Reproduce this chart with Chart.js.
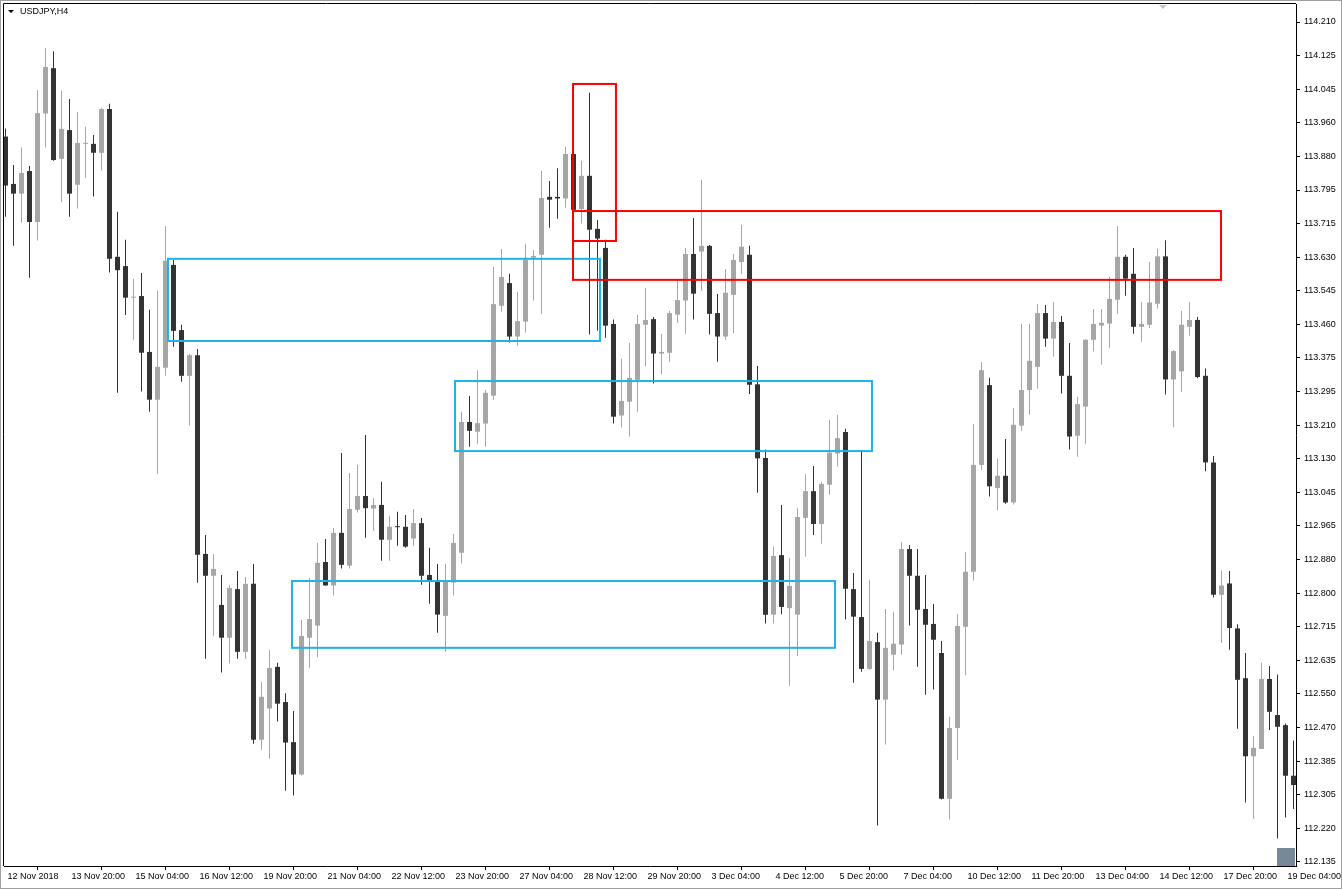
<!doctype html>
<html lang="en">

<head>
  <meta charset="UTF-8" />
  <title>USDJPY,H4</title>
  <script src="https://cdn.jsdelivr.net/npm/chart.js@4.4.1/dist/chart.umd.min.js"></script>
  <style>
    html, body { margin: 0; padding: 0; background: #fff; }
    #wrap { position: relative; width: 1342px; height: 889px; }
  </style>
</head>

<body>
  <div id="wrap">
    <canvas id="candleChart"></canvas>
  </div>
  <script>
    // USDJPY H4 bars, 12 Nov 2018 12:00 .. 19 Dec 2018 08:00
    const open = [
      113.927, 113.810, 113.786, 113.842, 113.716, 113.984, 114.096, 113.872, 113.943, 113.808,
      113.909, 113.909, 113.887, 113.995, 113.630, 113.607, 113.529, 113.533, 113.395, 113.277,
      113.356, 113.610, 113.449, 113.336, 113.387, 112.896, 112.842, 112.770, 112.689, 112.809,
      112.654, 112.822, 112.437, 112.514, 112.617, 112.530, 112.431, 112.351, 112.689, 112.719,
      112.876, 112.818, 112.948, 112.867, 113.005, 113.039, 113.008, 113.017, 112.931, 112.963,
      112.963, 112.934, 112.972, 112.844, 112.827, 112.743, 112.825, 112.899, 113.222, 113.198,
      113.218, 113.287, 113.509, 113.565, 113.433, 113.470, 113.628, 113.635, 113.778, 113.778,
      113.774, 113.884, 113.748, 113.830, 113.699, 113.652, 113.464, 113.238, 113.272, 113.326,
      113.462, 113.476, 113.391, 113.393, 113.487, 113.522, 113.637, 113.643, 113.657, 113.491,
      113.433, 113.536, 113.617, 113.635, 113.315, 113.133, 112.746, 112.893, 112.762, 112.746,
      112.985, 113.051, 112.970, 113.067, 113.144, 113.197, 112.809, 112.740, 112.612, 112.678,
      112.536, 112.647, 112.672, 112.908, 112.842, 112.760, 112.723, 112.651, 112.291, 112.466,
      112.716, 112.852, 113.116, 113.313, 113.059, 113.089, 113.023, 113.213, 113.301, 113.358,
      113.491, 113.428, 113.469, 113.336, 113.188, 113.260, 113.425, 113.460, 113.465, 113.524,
      113.630, 113.588, 113.457, 113.462, 113.514, 113.631, 113.327, 113.347, 113.457, 113.474,
      113.336, 113.122, 112.795, 112.823, 112.712, 112.589, 112.396, 112.414, 112.587, 112.498,
      112.473, 112.348
    ];
    const high = [
      113.947, 113.857, 113.900, 113.854, 114.042, 114.146, 114.138, 114.040, 114.020, 113.988,
      113.951, 113.931, 113.998, 114.008, 113.741, 113.672, 113.575, 113.590, 113.499, 113.546,
      113.706, 113.622, 113.462, 113.390, 113.402, 112.943, 112.896, 112.844, 112.819, 112.854,
      112.839, 112.871, 112.580, 112.659, 112.627, 112.552, 112.508, 112.733, 112.837, 112.923,
      112.933, 112.960, 113.145, 113.096, 113.116, 113.190, 113.034, 113.074, 112.990, 113.000,
      112.992, 113.007, 112.985, 112.911, 112.871, 112.871, 112.945, 113.247, 113.286, 113.350,
      113.301, 113.605, 113.649, 113.588, 113.543, 113.662, 113.647, 113.842, 113.817, 113.849,
      113.901, 113.886, 113.867, 114.035, 113.721, 113.672, 113.475, 113.378, 113.417, 113.486,
      113.553, 113.481, 113.439, 113.496, 113.575, 113.652, 113.726, 113.820, 113.659, 113.538,
      113.600, 113.637, 113.709, 113.657, 113.360, 113.154, 112.914, 113.017, 112.885, 113.009,
      113.093, 113.113, 113.074, 113.227, 113.239, 113.205, 112.849, 113.153, 112.832, 112.701,
      112.760, 112.753, 112.925, 112.918, 112.908, 112.844, 112.772, 112.681, 112.494, 112.747,
      112.901, 113.217, 113.370, 113.331, 113.131, 113.180, 113.257, 113.464, 113.464, 113.514,
      113.511, 113.518, 113.484, 113.417, 113.284, 113.427, 113.501, 113.501, 113.580, 113.706,
      113.635, 113.652, 113.518, 113.617, 113.650, 113.671, 113.400, 113.496, 113.518, 113.481,
      113.354, 113.138, 112.855, 112.854, 112.722, 112.651, 112.446, 112.627, 112.619, 112.598,
      112.477, 112.435
    ];
    const low = [
      113.729, 113.657, 113.714, 113.578, 113.670, 113.900, 113.867, 113.765, 113.729, 113.749,
      113.825, 113.779, 113.843, 113.591, 113.294, 113.486, 113.425, 113.297, 113.247, 113.094,
      113.336, 113.408, 113.321, 113.213, 112.825, 112.637, 112.694, 112.603, 112.625, 112.637,
      112.637, 112.427, 112.412, 112.390, 112.482, 112.311, 112.299, 112.348, 112.615, 112.641,
      112.818, 112.793, 112.860, 112.860, 112.998, 112.936, 112.953, 112.879, 112.879, 112.916,
      112.911, 112.916, 112.820, 112.773, 112.701, 112.654, 112.793, 112.872, 113.161, 113.168,
      113.161, 113.277, 113.494, 113.418, 113.410, 113.443, 113.522, 113.489, 113.702, 113.724,
      113.751, 113.746, 113.712, 113.438, 113.447, 113.430, 113.218, 113.208, 113.186, 113.247,
      113.359, 113.317, 113.339, 113.371, 113.467, 113.440, 113.475, 113.546, 113.438, 113.371,
      113.425, 113.442, 113.588, 113.291, 113.047, 112.724, 112.724, 112.747, 112.570, 112.644,
      112.889, 112.943, 112.921, 113.042, 113.112, 112.734, 112.578, 112.605, 112.610, 112.225,
      112.425, 112.608, 112.647, 112.719, 112.617, 112.548, 112.561, 112.289, 112.240, 112.386,
      112.596, 112.830, 113.103, 113.038, 113.003, 113.020, 113.018, 113.200, 113.240, 113.304,
      113.408, 113.383, 113.292, 113.154, 113.136, 113.168, 113.396, 113.363, 113.405, 113.489,
      113.534, 113.440, 113.420, 113.454, 113.502, 113.290, 113.209, 113.296, 113.435, 113.330,
      113.100, 112.788, 112.676, 112.659, 112.464, 112.282, 112.242, 112.414, 112.461, 112.193,
      112.245, 112.266
    ];
    const close = [
      113.806, 113.786, 113.837, 113.716, 113.985, 114.099, 113.869, 113.946, 113.786, 113.911,
      113.911, 113.887, 113.995, 113.625, 113.597, 113.529, 113.531, 113.393, 113.277, 113.358,
      113.620, 113.447, 113.336, 113.387, 112.894, 112.842, 112.859, 112.689, 112.812, 112.654,
      112.822, 112.437, 112.543, 112.614, 112.526, 112.430, 112.351, 112.693, 112.735, 112.874,
      112.818, 112.948, 112.869, 113.007, 113.039, 113.009, 113.017, 112.931, 112.963, 112.962,
      112.914, 112.972, 112.842, 112.830, 112.746, 112.827, 112.923, 113.222, 113.200, 113.219,
      113.294, 113.513, 113.580, 113.433, 113.471, 113.622, 113.632, 113.775, 113.771, 113.774,
      113.884, 113.746, 113.830, 113.697, 113.675, 113.460, 113.235, 113.274, 113.331, 113.464,
      113.474, 113.391, 113.395, 113.491, 113.523, 113.637, 113.539, 113.657, 113.489, 113.433,
      113.541, 113.622, 113.655, 113.314, 113.132, 112.746, 112.891, 112.765, 112.817, 112.987,
      113.051, 112.970, 113.069, 113.146, 113.182, 112.810, 112.741, 112.612, 112.681, 112.536,
      112.664, 112.674, 112.908, 112.842, 112.758, 112.721, 112.684, 112.291, 112.466, 112.718,
      112.852, 113.116, 113.350, 113.063, 113.089, 113.023, 113.215, 113.301, 113.373, 113.491,
      113.428, 113.469, 113.336, 113.186, 113.266, 113.425, 113.464, 113.467, 113.526, 113.630,
      113.576, 113.457, 113.464, 113.517, 113.631, 113.327, 113.397, 113.462, 113.474, 113.333,
      113.122, 112.795, 112.818, 112.713, 112.585, 112.396, 112.417, 112.587, 112.506, 112.469,
      112.348, 112.325
    ];

    // time axis: a label every 8 bars
    const timeTickBars = [0, 8, 16, 24, 32, 40, 48, 56, 64, 72, 80, 88, 96, 104, 112, 120, 128, 136, 144, 152, 160];
    const timeTickLabels = [
      '12 Nov 2018', '13 Nov 20:00', '15 Nov 04:00', '16 Nov 12:00', '19 Nov 20:00', '21 Nov 04:00',
      '22 Nov 12:00', '23 Nov 20:00', '27 Nov 04:00', '28 Nov 12:00', '29 Nov 20:00', '3 Dec 04:00',
      '4 Dec 12:00', '5 Dec 20:00', '7 Dec 04:00', '10 Dec 12:00', '11 Dec 20:00', '13 Dec 04:00',
      '14 Dec 12:00', '17 Dec 20:00', '19 Dec 04:00'
    ];

    // price axis as MT4 prints it (grid step 0.083, labels rounded)
    const priceTickLabels = [
      '114.210', '114.125', '114.045', '113.960', '113.880', '113.795', '113.715', '113.630', '113.545',
      '113.460', '113.375', '113.295', '113.210', '113.130', '113.045', '112.965', '112.880', '112.800',
      '112.715', '112.635', '112.550', '112.470', '112.385', '112.305', '112.220', '112.135'
    ];

    // rectangles drawn on the chart: [fromBar, toBar, priceTop, priceBottom]
    const redZones = [
      [70.94, 76.31, 114.057, 113.669],
      [70.94, 151.94, 113.743, 113.573]
    ];
    const blueZones = [
      [20.31, 74.31, 113.625, 113.422],
      [56.19, 108.31, 113.323, 113.150],
      [35.81, 103.69, 112.829, 112.664]
    ];

    const BULL = '#a6a6a6';
    const BEAR = '#333333';
    const bars = open.map((v, i) => i);
    const colors = bars.map(i => close[i] >= open[i] ? BULL : BEAR);

    Chart.defaults.font.family = "'Liberation Sans', Arial, sans-serif";
    Chart.defaults.font.size = 9;
    Chart.defaults.color = '#000';

    const chartDeco = {
      id: 'chartDeco',
      afterDatasetsDraw(chart) {
        const ctx = chart.ctx;
        const xs = chart.scales.x, ys = chart.scales.y;
        const area = chart.chartArea;
        ctx.save();
        ctx.beginPath();
        ctx.rect(area.left, area.top, area.right - area.left, area.bottom - area.top);
        ctx.clip();
        ctx.lineWidth = 2;
        const drawZone = (z, color) => {
          const x1 = xs.getPixelForValue(z[0]), x2 = xs.getPixelForValue(z[1]);
          const y1 = ys.getPixelForValue(z[2]), y2 = ys.getPixelForValue(z[3]);
          ctx.strokeStyle = color;
          ctx.strokeRect(x1, y1, x2 - x1, y2 - y1);
        };
        blueZones.forEach(z => drawZone(z, '#1db2ea'));
        redZones.forEach(z => drawZone(z, '#ff0000'));
        ctx.restore();
      },
      afterDraw(chart) {
        const ctx = chart.ctx;
        const area = chart.chartArea;
        ctx.save();
        // outer border
        ctx.strokeStyle = '#a0a0a0';
        ctx.lineWidth = 1;
        ctx.strokeRect(0.5, 0.5, chart.width - 1, chart.height - 1);
        // top and left frame of the chart window
        ctx.strokeStyle = '#000';
        ctx.beginPath();
        ctx.moveTo(area.left - 0.5, area.top - 0.5);
        ctx.lineTo(area.right, area.top - 0.5);
        ctx.moveTo(area.left - 0.5, area.top - 0.5);
        ctx.lineTo(area.left - 0.5, area.bottom);
        ctx.stroke();
        // symbol caption
        ctx.fillStyle = '#000';
        ctx.beginPath();
        ctx.moveTo(area.left + 4, area.top + 6);
        ctx.lineTo(area.left + 10, area.top + 6);
        ctx.lineTo(area.left + 7, area.top + 9);
        ctx.closePath();
        ctx.fill();
        ctx.font = "9px 'Liberation Sans', Arial, sans-serif";
        ctx.textBaseline = 'middle';
        ctx.fillText('USDJPY,H4', area.left + 16, area.top + 8);
        // chart shift marker (top) and scroll box (bottom right)
        const sx = area.right - 133;
        ctx.fillStyle = '#c8c8c8';
        ctx.beginPath();
        ctx.moveTo(sx - 4, area.top + 1);
        ctx.lineTo(sx + 4, area.top + 1);
        ctx.lineTo(sx, area.top + 5);
        ctx.closePath();
        ctx.fill();
        ctx.fillStyle = '#778899';
        ctx.fillRect(area.right - 19, area.bottom - 18, 18, 18);
        ctx.restore();
      }
    };

    const ctx = document.getElementById('candleChart').getContext('2d');
    const candleChart = new Chart(ctx, {
      type: 'bar',
      plugins: [chartDeco],
      data: {
        datasets: [
          {
            label: 'wick',
            data: bars.map(i => ({ x: i, y: [low[i], high[i]] })),
            backgroundColor: colors,
            barThickness: 1,
            grouped: false,
            borderWidth: 0,
            inflateAmount: 0,
            order: 2
          },
          {
            label: 'body',
            data: bars.map(i => ({ x: i, y: [open[i], close[i]] })),
            backgroundColor: colors,
            barThickness: 5,
            grouped: false,
            borderWidth: 0,
            inflateAmount: 0,
            minBarLength: 1,
            order: 1
          }
        ]
      },
      options: {
        responsive: true,
        maintainAspectRatio: false,
        animation: false,
        events: [],
        layout: { padding: { left: 4, top: 4, right: 0, bottom: 0 } },
        plugins: {
          legend: { display: false },
          tooltip: { enabled: false }
        },
        scales: {
          x: {
            type: 'linear',
            offset: false,
            min: -0.1875,
            max: 161.3125,
            afterBuildTicks: (scale) => {
              scale.ticks = timeTickBars.map(v => ({ value: v }));
            },
            afterFit: (scale) => {
              scale.height = 23;
              scale.paddingLeft = 0;
              scale.paddingRight = 0;
            },
            ticks: {
              autoSkip: false,
              maxRotation: 0,
              minRotation: 0,
              align: 'start',
              labelOffset: 2,
              padding: 1,
              color: '#000',
              callback: (v, idx) => timeTickLabels[idx]
            },
            grid: {
              display: true,
              drawOnChartArea: false,
              drawTicks: true,
              tickLength: 4,
              color: '#000'
            },
            border: { display: true, color: '#000' }
          },
          y: {
            type: 'linear',
            position: 'right',
            min: 112.125,
            max: 114.2545,
            afterBuildTicks: (scale) => {
              scale.ticks = priceTickLabels.map((t, k) => ({ value: 114.210 - k * 0.083 }));
            },
            afterFit: (scale) => {
              scale.width = 46;
              scale.paddingTop = 0;
              scale.paddingBottom = 0;
            },
            ticks: {
              autoSkip: false,
              padding: 4,
              color: '#000',
              callback: (v, idx) => priceTickLabels[idx]
            },
            grid: {
              display: true,
              drawOnChartArea: false,
              drawTicks: true,
              tickLength: 4,
              color: '#000'
            },
            border: { display: true, color: '#000' }
          }
        }
      }
    });
  </script>
</body>

</html>
